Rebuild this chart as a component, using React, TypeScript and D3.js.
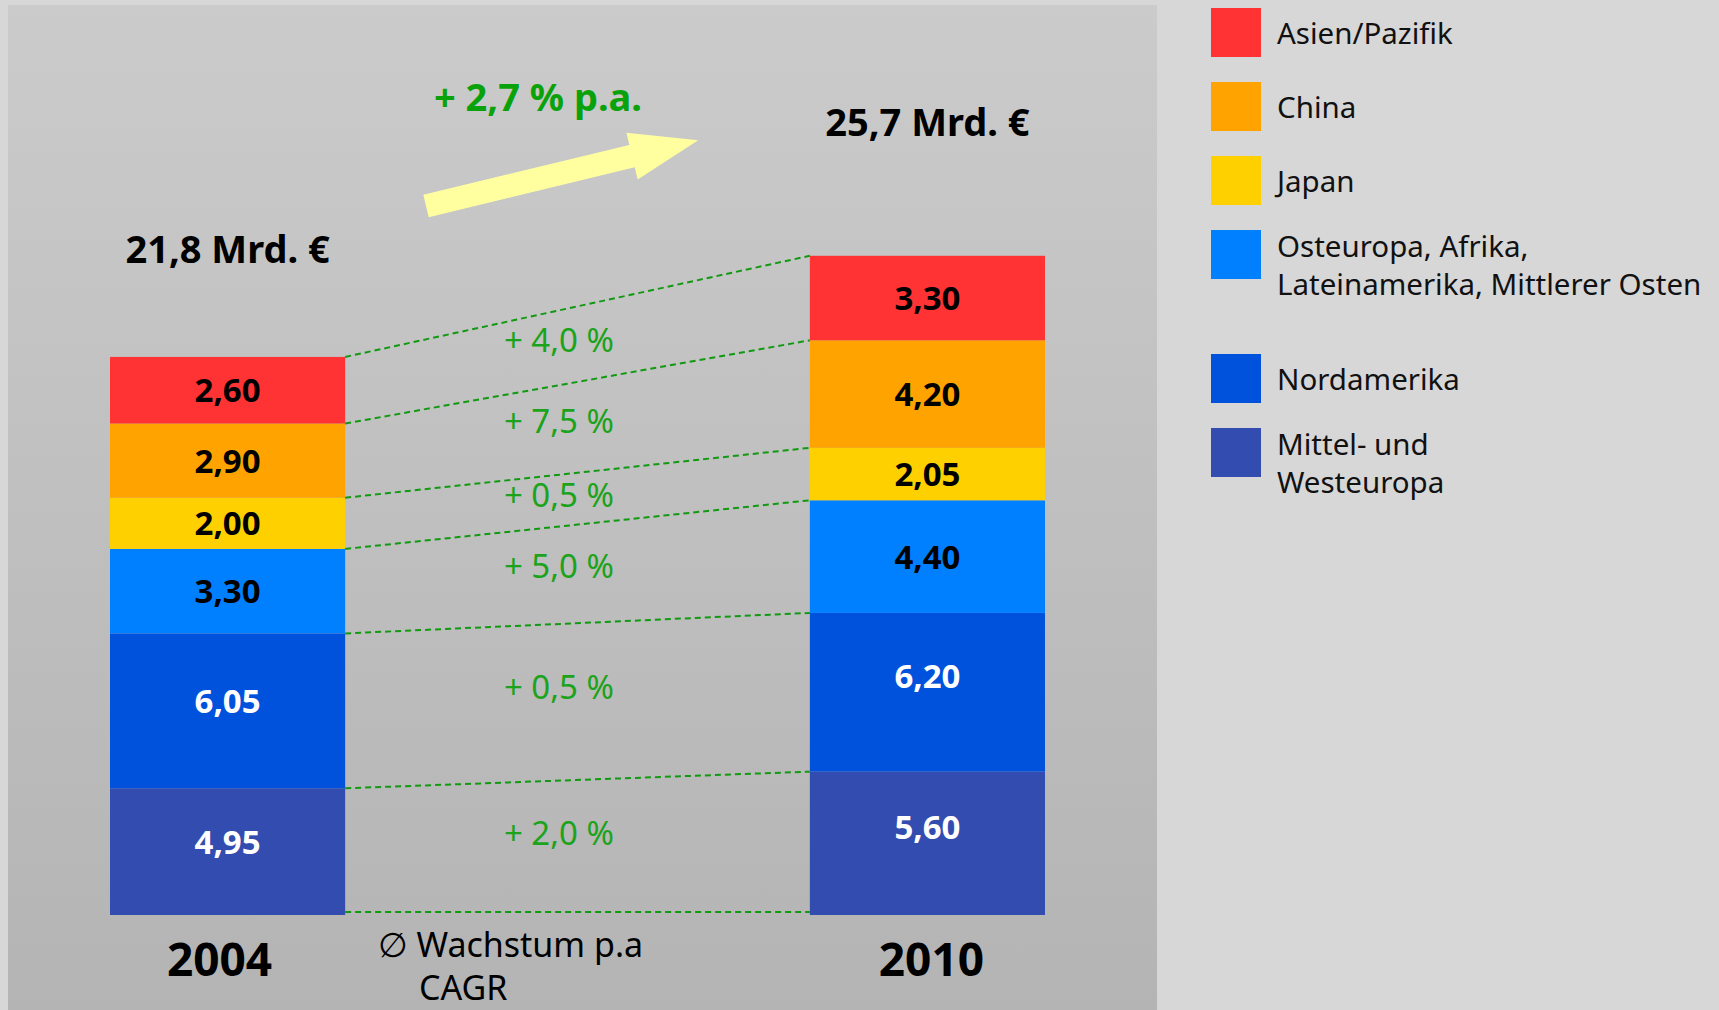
import React, { useRef, useEffect } from "react";
import * as d3 from "d3";

// data (stacked bottom -> top)
const years = ["2004", "2010"];
const regions = [
  "Mittel- und Westeuropa",
  "Nordamerika",
  "Osteuropa, Afrika, Lateinamerika, Mittlerer Osten",
  "Japan",
  "China",
  "Asien/Pazifik",
];
const legendLines = [
  ["Mittel- und", "Westeuropa"],
  ["Nordamerika"],
  ["Osteuropa, Afrika,", "Lateinamerika, Mittlerer Osten"],
  ["Japan"],
  ["China"],
  ["Asien/Pazifik"],
];
const values2004 = [4.95, 6.05, 3.3, 2.0, 2.9, 2.6];
const values2010 = [5.6, 6.2, 4.4, 2.05, 4.2, 3.3];
const valueLabels2004 = ["4,95", "6,05", "3,30", "2,00", "2,90", "2,60"];
const valueLabels2010 = ["5,60", "6,20", "4,40", "2,05", "4,20", "3,30"];
const growthLabels = ["+ 2,0 %", "+ 0,5 %", "+ 5,0 %", "+ 0,5 %", "+ 7,5 %", "+ 4,0 %"];
const totalLabels = ["21,8 Mrd. €", "25,7 Mrd. €"];
const cagrLabel = "+ 2,7 % p.a.";
const colors = ["#334caf", "#0052dc", "#0080ff", "#ffd000", "#ffa300", "#ff3333"];

const FONT = "'Noto Sans', 'Open Sans', 'DejaVu Sans', sans-serif";

const App = () => {
  const container = useRef(null);

  const width = 1719;
  const height = 1010;

  useEffect(() => {
    const svg = d3.select(container.current);
    svg.selectAll("*").remove();

    // background + panel
    svg.append("rect").attr("width", width).attr("height", height).attr("fill", "#d7d7d7");
    const defs = svg.append("defs");
    const grad = defs
      .append("linearGradient")
      .attr("id", "panelGrad")
      .attr("x1", 0)
      .attr("y1", 0)
      .attr("x2", 0)
      .attr("y2", 1);
    grad.append("stop").attr("offset", "0%").attr("stop-color", "#cbcbcb");
    grad.append("stop").attr("offset", "100%").attr("stop-color", "#b4b4b4");
    svg
      .append("rect")
      .attr("x", 8)
      .attr("y", 5)
      .attr("width", 1149)
      .attr("height", height - 5)
      .attr("fill", "url(#panelGrad)");

    // scales
    const xScale = d3
      .scaleBand()
      .domain(years)
      .range([110, 1045])
      .paddingInner(0.664)
      .paddingOuter(0);
    const yScale = d3.scaleLinear().domain([0, 26]).range([915, 915 - 26 * 25.6]);

    const data = years.map((yr, i) => {
      const vals = i === 0 ? values2004 : values2010;
      const row: any = { year: yr };
      regions.forEach((r, j) => (row[r] = vals[j]));
      return row;
    });
    const stacked = d3.stack().keys(regions)(data);

    // bars
    const bw = xScale.bandwidth();
    svg
      .selectAll(".layer")
      .data(stacked)
      .enter()
      .append("g")
      .attr("fill", (d, i) => colors[i])
      .selectAll("rect")
      .data((d) => d)
      .enter()
      .append("rect")
      .attr("x", (d: any) => xScale(d.data.year))
      .attr("y", (d) => yScale(d[1]))
      .attr("width", bw)
      .attr("height", (d) => yScale(d[0]) - yScale(d[1]));

    // value labels
    stacked.forEach((layer, i) => {
      layer.forEach((d: any, k) => {
        const lbl = k === 0 ? valueLabels2004[i] : valueLabels2010[i];
        const mid = (yScale(d[0]) + yScale(d[1])) / 2;
        const lift = i < 2 ? (k === 0 ? 10 : 16) : 0;
        svg
          .append("text")
          .attr("x", xScale(d.data.year) + bw / 2)
          .attr("y", mid + 12 - lift)
          .attr("text-anchor", "middle")
          .style("font-family", FONT)
          .style("font-weight", "bold")
          .style("font-size", "33px")
          .style("fill", i < 2 ? "#ffffff" : "#000000")
          .text(lbl);
      });
    });

    // dashed connector lines between stack boundaries
    const x0 = xScale("2004") + bw;
    const x1 = xScale("2010");
    const boundaries = d3.range(regions.length + 1).map((b) => {
      const y0 = b === 0 ? yScale(0) : yScale(stacked[b - 1][0][1]);
      const y1 = b === 0 ? yScale(0) : yScale(stacked[b - 1][1][1]);
      return { y0: b === 0 ? y0 - 3 : y0, y1: b === 0 ? y1 - 3 : y1 };
    });
    svg
      .selectAll(".conn")
      .data(boundaries)
      .enter()
      .append("line")
      .attr("x1", x0)
      .attr("y1", (d) => d.y0)
      .attr("x2", x1)
      .attr("y2", (d) => d.y1)
      .attr("stroke", "#119911")
      .attr("stroke-width", 2)
      .attr("stroke-dasharray", "6,4");

    // growth labels between lines (closer to the upper line)
    const t = 0.46;
    const lx = x0 + (x1 - x0) * t;
    growthLabels.forEach((g, i) => {
      const a = boundaries[i];
      const b = boundaries[i + 1];
      const yLow = a.y0 + (a.y1 - a.y0) * t;
      const yUp = b.y0 + (b.y1 - b.y0) * t;
      svg
        .append("text")
        .attr("x", lx)
        .attr("y", yUp + (yLow - yUp) * 0.4 + 12)
        .attr("text-anchor", "middle")
        .style("font-family", FONT)
        .style("font-size", "33px")
        .style("fill", "#1ba31b")
        .text(g);
    });

    // totals above bars
    years.forEach((yr, i) => {
      const top = yScale(d3.sum(i === 0 ? values2004 : values2010));
      svg
        .append("text")
        .attr("x", xScale(yr) + bw / 2)
        .attr("y", top - (i === 0 ? 94 : 120))
        .attr("text-anchor", "middle")
        .style("font-family", FONT)
        .style("font-weight", "bold")
        .style("font-size", "38px")
        .style("fill", "#000")
        .text(totalLabels[i]);

      // year labels
      svg
        .append("text")
        .attr("x", xScale(yr) + bw / 2 - (i === 0 ? 8 : -4))
        .attr("y", yScale(0) + 61)
        .attr("text-anchor", "middle")
        .style("font-family", FONT)
        .style("font-weight", "bold")
        .style("font-size", "46px")
        .style("fill", "#000")
        .text(yr);
    });

    // overall growth arrow
    const arrow = svg.append("g").attr("transform", "translate(426,206) rotate(-13.6)");
    arrow
      .append("polygon")
      .attr("points", "0,-11.5 212,-11.5 212,-24 280,0 212,24 212,11.5 0,11.5")
      .attr("fill", "#ffffa0");
    svg
      .append("text")
      .attr("x", 538)
      .attr("y", 111)
      .attr("text-anchor", "middle")
      .style("font-family", FONT)
      .style("font-weight", "bold")
      .style("font-size", "38px")
      .style("fill", "#0aa20a")
      .text(cagrLabel);

    // CAGR note
    const note = svg
      .append("text")
      .style("font-family", FONT)
      .style("font-size", "34px")
      .style("fill", "#000");
    note.append("tspan").attr("x", 378).attr("y", 957).text("∅ Wachstum p.a");
    note.append("tspan").attr("x", 419).attr("y", 1000).text("CAGR");

    // legend (top -> bottom is reverse stack order)
    const legend = svg.append("g").attr("transform", "translate(1211, 8)");
    let ly = 0;
    d3.range(regions.length - 1, -1, -1).forEach((i) => {
      const lines = legendLines[i];
      legend
        .append("rect")
        .attr("x", 0)
        .attr("y", ly)
        .attr("width", 50)
        .attr("height", 49)
        .attr("fill", colors[i]);
      const txt = legend
        .append("text")
        .style("font-family", FONT)
        .style("font-size", "29.5px")
        .style("fill", "#111");
      lines.forEach((l, k) => {
        txt
          .append("tspan")
          .attr("x", 66)
          .attr("y", ly + (lines.length === 1 ? 36 : 27) + k * 38)
          .text(l);
      });
      ly += lines.length === 1 ? 74 : 124;
    });
  }, []);

  return (
    <div style={{ position: "fixed", left: 0, top: 0, width: width, height: height }}>
      <svg ref={container} width={width} height={height} style={{ display: "block" }} />
    </div>
  );
};

export default App;
